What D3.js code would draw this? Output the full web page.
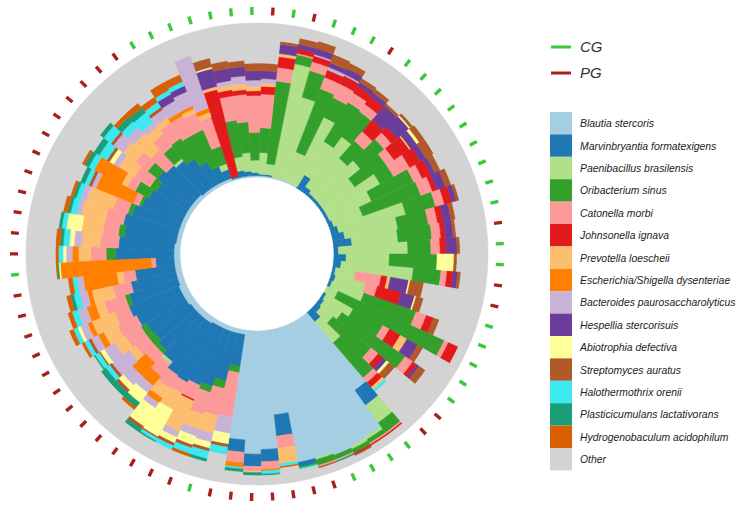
<!DOCTYPE html>
<html>
<head>
<meta charset="utf-8">
<script src="https://cdn.jsdelivr.net/npm/d3@7"></script>
<style>
  body { margin: 0; background: #fff; }
  text { font-family: "Liberation Sans", Arial, sans-serif; }
</style>
</head>
<body>
<svg id="chart" width="740" height="510"></svg>
<script>
// legend order = stacking order, inner to outer
var species = [
  "Blautia stercoris", "Marvinbryantia formatexigens", "Paenibacillus brasilensis",
  "Oribacterium sinus", "Catonella morbi", "Johnsonella ignava", "Prevotella loescheii",
  "Escherichia/Shigella dysenteriae", "Bacteroides paurosaccharolyticus", "Hespellia stercorisuis",
  "Abiotrophia defectiva", "Streptomyces auratus", "Halothermothrix orenii",
  "Plasticicumulans lactativorans", "Hydrogenobaculum acidophilum", "Other"
];
var speciesColors = [
  "#a6cee3", "#1f78b4", "#b2df8a", "#33a02c", "#fb9a99", "#e31a1c", "#fdbf6f",
  "#ff7f00", "#cab2d6", "#6a3d9a", "#ffff99", "#b15928", "#3ee8f0", "#1b9e77",
  "#d95f02", "#d3d3d3"
];
var groupNames = ["CG", "PG"];
var groupColors = ["#3cc83c", "#a8201c"];

// one entry per sample, clockwise from 12 o'clock
var sampleGroup = [
  "CG","PG","CG","PG","CG","CG","CG","PG","CG","CG","CG","CG","CG","CG","CG","CG","CG",
  "PG","CG","CG","PG","PG","CG","CG","CG","CG","CG","PG","PG","CG","CG","CG","CG",
  "PG","PG","PG","PG","PG","PG","PG","CG","PG","PG","PG","PG","PG","PG","PG","PG",
  "PG","PG","PG","PG","PG","CG","PG","PG","PG","PG","PG","PG","PG","PG","PG","PG",
  "PG","PG","CG","CG","CG","CG","CG","CG"
];

// relative abundance (%) per sample, columns follow species[0..14]; Other = remainder
var abundance = [
  [1,2,8,18,24,3,3,0,4,6,0,5,0,0,0],
  [1,1,14,16,22,5,2,0,3,5,0,5,0,0,0],
  [1,1,7,54,9,7,2,0,0,6,0,2,0,0,0],
  [1,0,75,6,1,3,0,0,0,3,0,4,0,0,0],
  [1,0,55,18,6,4,0,0,1,4,0,5,0,0,0],
  [1,0,20,44,8,5,0,0,2,3,0,6,0,0,0],
  [1,0,48,14,10,6,0,0,1,4,0,4,0,0,0],
  [0,10,25,30,7,5,0,0,0,3,0,3,0,0,0],
  [0,4,40,20,6,6,0,0,0,3,0,3,0,0,0],
  [0,2,30,15,8,10,0,0,0,12,0,2,0,0,0],
  [0,2,35,20,6,5,0,0,0,10,1,2,0,0,0],
  [0,2,25,25,6,12,1,0,0,5,2,4,0,0,0],
  [0,2,40,10,12,8,0,0,0,4,0,6,0,0,0],
  [0,2,30,30,6,6,0,0,0,3,0,4,0,0,0],
  [0,3,20,40,8,3,0,0,0,6,0,4,0,0,0],
  [0,5,45,20,6,5,0,0,0,3,0,2,0,0,0],
  [0,8,35,20,6,4,0,0,0,5,0,3,0,0,0],
  [0,12,30,22,6,3,0,0,0,5,0,2,0,0,0],
  [0,3,45,15,6,4,0,0,0,7,0,2,0,0,0],
  [0,8,28,31,0,0,0,0,0,0,11,2,0,0,0],
  [0,5,47,18,4,4,0,0,0,3,0,2,0,0,0],
  [0,2,13,0,17,4,2,0,0,12,1,9,0,0,0],
  [0,3,20,0,8,16,0,0,0,9,1,5,0,0,0],
  [0,2,22,36,7,5,0,0,0,0,0,4,0,0,0],
  [0,0,8,76,3,7,0,0,0,0,0,0,0,0,0],
  [0,2,20,22,5,8,5,0,0,8,0,4,0,0,0],
  [0,3,14,50,6,3,0,0,0,2,0,5,0,0,0],
  [0,4,10,32,6,4,0,0,0,3,2,5,0,0,0],
  [0,8,18,30,4,4,2,0,0,0,0,0,2,0,0],
  [59,12,14,8,1,1,0,0,0,0,0,0,0,0,0],
  [88,0,2,3,1,1,0,0,0,0,0,0,0,0,0],
  [89,0,2,3,0,1,0,0,0,0,0,1,0,0,0],
  [90,0,0,3,1,0,0,0,0,0,0,0,0,1,0],
  [88,0,1,4,1,0,0,0,0,0,0,1,0,0,0],
  [88,3,0,1,0,0,0,0,0,0,0,0,1,0,0],
  [55,14,0,0,8,0,10,0,0,0,0,0,2,0,1],
  [77,8,0,0,5,0,0,1,0,0,0,0,2,1,0],
  [80,8,0,0,3,0,1,0,0,0,0,0,0,2,0],
  [71,8,0,0,7,0,0,3,0,0,0,0,1,2,0],
  [3,21,0,4,29,0,0,0,11,0,7,2,5,0,0],
  [3,32,0,5,18,0,12,0,6,0,4,2,5,2,0],
  [3,38,0,4,15,0,10,0,5,0,6,2,4,0,2],
  [3,40,0,0,10,1,22,0,4,0,4,2,3,0,0],
  [3,42,0,0,8,0,12,0,0,0,20,1,2,1,0],
  [4,40,0,0,10,0,8,4,4,0,14,2,0,3,0],
  [4,35,2,0,10,0,0,8,6,0,8,0,0,4,2],
  [4,32,0,3,8,0,0,12,8,0,4,2,0,4,0],
  [4,30,0,5,10,0,5,0,14,0,0,2,3,4,0],
  [5,30,0,4,12,0,8,0,8,0,3,1,3,1,0],
  [5,33,0,0,14,0,10,4,5,0,0,2,3,0,2],
  [5,35,0,0,10,0,16,3,5,0,2,0,3,0,3],
  [4,33,0,3,14,0,6,6,6,0,0,0,4,0,3],
  [4,30,0,0,12,0,14,3,5,0,0,0,4,2,3],
  [4,26,0,0,8,0,4,22,4,0,0,0,3,0,3],
  [4,12,0,0,3,0,0,59,0,0,1,0,0,1,1],
  [4,38,0,6,10,0,8,4,4,0,2,0,3,0,2],
  [4,36,0,0,12,0,12,0,5,0,3,0,4,2,3],
  [3,34,0,4,10,0,14,0,0,0,10,0,3,2,0],
  [3,36,0,0,12,0,16,0,3,0,0,0,4,2,3],
  [3,32,0,3,10,0,18,0,4,0,0,0,3,2,2],
  [3,28,0,2,4,0,0,26,3,0,0,2,3,3,0],
  [3,26,0,10,6,0,4,20,0,0,0,0,4,3,2],
  [3,24,0,5,12,0,12,0,4,0,3,2,6,4,0],
  [3,28,0,8,10,0,10,0,8,0,0,2,6,3,0],
  [3,26,0,0,14,0,14,0,6,0,0,0,5,4,3],
  [2,25,2,10,10,0,6,0,4,0,0,0,8,4,4],
  [2,22,0,16,12,0,4,0,6,0,0,2,4,0,4],
  [2,16,0,20,14,0,0,3,8,5,0,0,3,0,6],
  [2,10,0,26,12,0,3,2,10,4,0,0,3,0,5],
  [2,6,4,12,20,0,3,3,36,0,0,0,0,0,0],
  [1,1,0,0,0,58,2,0,0,12,1,6,0,0,0],
  [1,4,9,24,16,4,3,0,3,8,0,5,0,0,0],
  [1,3,12,20,18,3,4,0,5,6,0,4,0,0,0]
];

var svg = d3.select("#chart");
var cx = 257, cy = 254;
var innerR = 77, outerR = 231;

// build table for d3.stack
var table = abundance.map(function (row, i) {
  var d = { id: "S" + (i + 1), group: sampleGroup[i] };
  var sum = 0;
  row.forEach(function (v, j) { d[species[j]] = v; sum += v; });
  d["Other"] = Math.max(0, 100 - sum);
  return d;
});

var offset = -3.67 * Math.PI / 180;
var x = d3.scaleBand()
  .domain(table.map(function (d) { return d.id; }))
  .range([offset, offset + 2 * Math.PI])
  .padding(0);

var y = d3.scaleLinear()
  .domain([0, 100])
  .range([innerR, outerR]);

var color = d3.scaleOrdinal().domain(species).range(speciesColors);
var groupColor = d3.scaleOrdinal().domain(groupNames).range(groupColors);

var series = d3.stack().keys(species)(table);

var arc = d3.arc()
  .innerRadius(function (d) { return y(d[0]); })
  .outerRadius(function (d) { return y(d[1]); })
  .startAngle(function (d) { return x(d.data.id); })
  .endAngle(function (d) { return x(d.data.id) + x.bandwidth(); })
  .padAngle(0);

var g = svg.append("g")
  .attr("transform", "translate(" + cx + "," + cy + ")");

g.selectAll("g.layer")
  .data(series)
  .enter()
  .append("g")
  .attr("class", "layer")
  .attr("fill", function (d) { return color(d.key); })
  .attr("stroke", function (d) { return color(d.key); })
  .attr("stroke-width", 0.6)
  .selectAll("path")
  .data(function (d) { return d.filter(function (p) { return p[1] - p[0] > 0; }); })
  .enter()
  .append("path")
  .attr("d", arc);

// group ring (CG / PG)
g.selectAll("line.grp")
  .data(table)
  .enter()
  .append("line")
  .attr("class", "grp")
  .each(function (d) {
    var a = x(d.id) + x.bandwidth() / 2;
    d3.select(this)
      .attr("x1", 239 * Math.sin(a)).attr("y1", -239 * Math.cos(a))
      .attr("x2", 247 * Math.sin(a)).attr("y2", -247 * Math.cos(a));
  })
  .attr("stroke", function (d) { return groupColor(d.group); })
  .attr("stroke-width", 3.4);

// legends
var gl = svg.append("g").attr("transform", "translate(551,0)");
gl.selectAll("line.gl")
  .data(groupNames)
  .enter()
  .append("line")
  .attr("x1", 0).attr("x2", 20)
  .attr("y1", function (d, i) { return 47 + i * 26; })
  .attr("y2", function (d, i) { return 47 + i * 26; })
  .attr("stroke", function (d) { return groupColor(d); })
  .attr("stroke-width", 3);
gl.selectAll("text.gl")
  .data(groupNames)
  .enter()
  .append("text")
  .attr("x", 29)
  .attr("y", function (d, i) { return 52 + i * 26; })
  .style("font-size", "15px")
  .style("font-style", "italic")
  .attr("fill", "#333")
  .text(function (d) { return d; });

var step = 22.4;
gl.selectAll("rect.sp")
  .data(species)
  .enter()
  .append("rect")
  .attr("x", -1)
  .attr("y", function (d, i) { return 112 + i * step; })
  .attr("width", 22)
  .attr("height", step)
  .attr("fill", function (d) { return color(d); });
gl.selectAll("text.sp")
  .data(species)
  .enter()
  .append("text")
  .attr("x", 29)
  .attr("y", function (d, i) { return 112 + i * step + step / 2 + 4; })
  .style("font-size", "10.4px")
  .style("font-style", "italic")
  .attr("fill", "#222")
  .text(function (d) { return d; });
</script>
</body>
</html>
